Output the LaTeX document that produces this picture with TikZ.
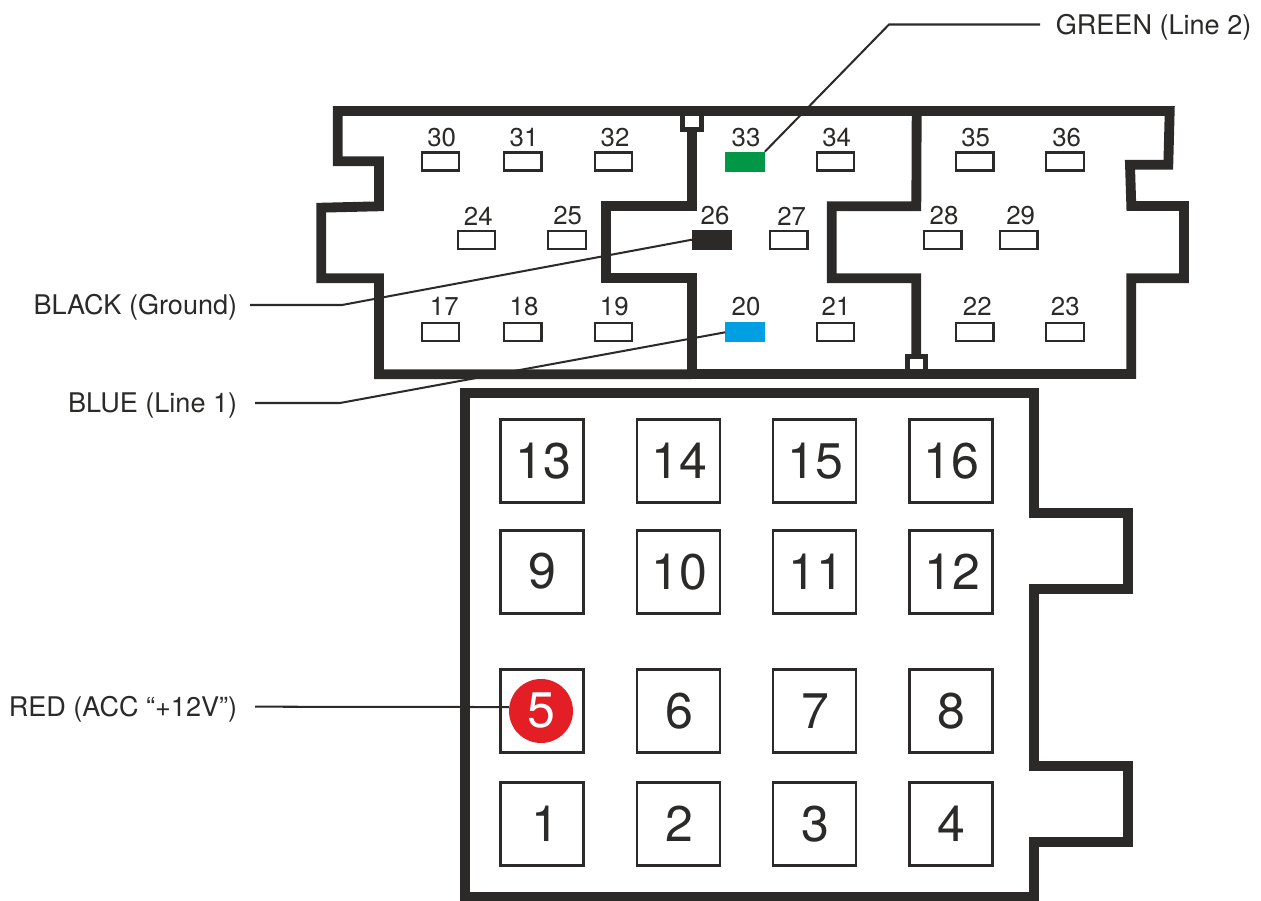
\documentclass[tikz,border=0pt]{standalone}
\usepackage{fontspec}
\setmainfont{TeX Gyre Heros}
\usetikzlibrary{positioning}

\definecolor{shell}{HTML}{2B2A29}
\definecolor{wiregreen}{HTML}{009846}
\definecolor{wireblue}{HTML}{009FE3}
\definecolor{wirered}{HTML}{E31E24}

\tikzset{
    housing/.style={draw=shell, line width=5.6pt, miter limit=10},
    latch/.style={draw=shell, fill=white, line width=2.8pt},
    pin/.style={draw=shell, line width=1.2pt, minimum width=.75cm, minimum height=.36cm, inner sep=0pt},
    pinnum/.style={text=shell, inner sep=0pt, font=\fontsize{14.7}{16}\selectfont},
    bigpin/.style={draw=shell, line width=1.25pt, minimum size=1.66cm, inner sep=0pt},
    bignum/.style={text=shell, inner sep=0pt, font=\fontsize{28.5}{30}\selectfont},
    wirelabel/.style={text=shell, inner ysep=0pt, text height=11.1pt, text depth=0pt, font=\fontsize{15.4}{17}\selectfont},
    wire/.style={draw=shell, line width=1.15pt}
}

\begin{document}
\begin{tikzpicture}[x=.02cm, y=-.02cm]
    \useasboundingbox (0,0) rectangle (1261,901);

    % Inner walls of the upper connector
    \draw[housing] (691.7,125) -- (691.7,206.3) -- (606.3,206.3) -- (606.3,278.3) -- (691.7,278.3) -- (691.7,374.3);
    \draw[housing] (916.7,111) -- (916.3,206.3) -- (831.7,206.3) -- (831.7,278.3) -- (916.3,278.3) -- (916.3,360);

    % Latches
    \draw[latch] (682.5,111) rectangle (701.5,129.7);
    \draw[latch] (907.3,374) rectangle (925.3,356.7);

    % Upper connector
    \draw[housing] (916,111) -- (337.7,111) -- (337.7,161.3) -- (379,161.3) -- (379,206.3) -- (321.3,207.7)
        -- (321.3,278.3) -- (379,278.3) -- (379,374.3) -- (691.7,374.3);
    \draw[housing] (907,111) -- (1169.7,111) -- (1168.3,164.7) -- (1130,164.7) -- (1131.3,206) -- (1184,206)
        -- (1184,278.3) -- (1131.3,278.3) -- (1131.3,374) -- (687,374);

    % Lower connector
    \draw[housing] (465,392.7) -- (1034,392.7) -- (1034,513.2) -- (1128.3,513.2) -- (1128.3,589) -- (1034,589)
        -- (1034,766) -- (1128.3,766) -- (1128.3,841.7) -- (1034,841.7) -- (1034,896.5) -- (465,896.5) -- cycle;

    % Small pins, top row
    \node[pin] (p30) at (440.3,161.5) {};
    \node[pin] (p31) at (522.7,161.5) {};
    \node[pin] (p32) at (613.3,161.5) {};
    \node[pin, draw=wiregreen, fill=wiregreen] (p33) at (745,161.8) {};
    \node[pin] (p34) at (835.3,161.5) {};
    \node[pin] (p35) at (974.7,161.5) {};
    \node[pin] (p36) at (1065,161.5) {};

    % Small pins, middle row
    \node[pin] (p24) at (476.3,239.7) {};
    \node[pin] (p25) at (567,239.7) {};
    \node[pin, fill=shell] (p26) at (711.7,239.7) {};
    \node[pin] (p27) at (788.7,239.7) {};
    \node[pin] (p28) at (942.7,239.7) {};
    \node[pin] (p29) at (1018.7,239.7) {};

    % Small pins, bottom row
    \node[pin] (p17) at (440.3,332.3) {};
    \node[pin] (p18) at (522.7,332.3) {};
    \node[pin] (p19) at (613.3,332.3) {};
    \node[pin, draw=wireblue, fill=wireblue] (p20) at (745,332.3) {};
    \node[pin] (p21) at (835.3,332.3) {};
    \node[pin] (p22) at (974.7,332.3) {};
    \node[pin] (p23) at (1065,332.3) {};

    % Small pin numbers
    \node[pinnum] (n30) at (441.7,137.3) {30};
    \node[pinnum] (n31) at (524,137.3) {31};
    \node[pinnum] (n32) at (615,137.3) {32};
    \node[pinnum] (n33) at (746,137.3) {33};
    \node[pinnum] (n34) at (836.7,137.3) {34};
    \node[pinnum] (n35) at (975.7,137.3) {35};
    \node[pinnum] (n36) at (1066.7,137.3) {36};
    \node[pinnum] (n24) at (478.3,216) {24};
    \node[pinnum] (n25) at (567.7,216) {25};
    \node[pinnum] (n26) at (715,216) {26};
    \node[pinnum] (n27) at (791.7,216) {27};
    \node[pinnum] (n28) at (944,216) {28};
    \node[pinnum] (n29) at (1020.7,216) {29};
    \node[pinnum] (n17) at (444.3,306.7) {17};
    \node[pinnum] (n18) at (524,306.7) {18};
    \node[pinnum] (n19) at (614.3,306.7) {19};
    \node[pinnum] (n20) at (746,306.7) {20};
    \node[pinnum] (n21) at (836,306.7) {21};
    \node[pinnum] (n22) at (977.3,306.7) {22};
    \node[pinnum] (n23) at (1065.3,306.7) {23};

    % Big pins
    \node[bigpin] (b13) at (542,461) {};
    \node[bigpin] (b14) at (678.5,461) {};
    \node[bigpin] (b15) at (814.5,461) {};
    \node[bigpin] (b16) at (951,461) {};
    \node[bigpin] (b9) at (542,572) {};
    \node[bigpin] (b10) at (678.5,572) {};
    \node[bigpin] (b11) at (814.5,572) {};
    \node[bigpin] (b12) at (951,572) {};
    \node[bigpin] (b5) at (542,711) {};
    \node[bigpin] (b6) at (678.5,711) {};
    \node[bigpin] (b7) at (814.5,711) {};
    \node[bigpin] (b8) at (951,711) {};
    \node[bigpin] (b1) at (542,824) {};
    \node[bigpin] (b2) at (678.5,824) {};
    \node[bigpin] (b3) at (814.5,824) {};
    \node[bigpin] (b4) at (951,824) {};

    % Red marker on pin 5
    \node[circle, fill=wirered, minimum size=1.28cm, inner sep=0pt] (hot5) at (541,711) {};

    % Big pin numbers
    \node[bignum] (m13) at (543,461) {13};
    \node[bignum] (m14) at (679,461) {14};
    \node[bignum] (m15) at (815,461) {15};
    \node[bignum] (m16) at (951,461) {16};
    \node[bignum] (m9) at (542,571) {9};
    \node[bignum] (m10) at (679,572) {10};
    \node[bignum] (m11) at (816,572) {11};
    \node[bignum] (m12) at (952,572) {12};
    \node[bignum, text=white] (m5) at (541,710) {5};
    \node[bignum] (m6) at (679,711) {6};
    \node[bignum] (m7) at (815,711) {7};
    \node[bignum] (m8) at (951,711) {8};
    \node[bignum] (m1) at (545,824) {1};
    \node[bignum] (m2) at (679,824) {2};
    \node[bignum] (m3) at (815,824) {3};
    \node[bignum] (m4) at (951,824) {4};

    % Wire labels
    \node[wirelabel, anchor=west, inner xsep=.31cm] (lblgreen) at (1040,24.5) {GREEN (Line 2)};
    \node[wirelabel, anchor=east, inner xsep=.25cm] (lblblack) at (250,305) {BLACK (Ground)};
    \node[wirelabel, anchor=east, inner xsep=.35cm] (lblblue) at (255,403) {BLUE (Line 1)};
    \node[wirelabel, anchor=east, inner xsep=.35cm] (lblred) at (255,706.7) {RED (ACC “+12V”)};

    % Knees of the wires
    \coordinate (kneegreen) at (889,24.5);
    \coordinate (kneeblack) at (342,305);
    \coordinate (kneeblue) at (340,403);

    % Wires
    \draw[wire] (lblgreen.west) -- (kneegreen) -- (p33.north east);
    \draw[wire] (lblblack.east) -- (kneeblack) -- (p26.west);
    \draw[wire] (lblblue.east) -- (kneeblue) -- (p20.west);
    \draw[wire] (lblred.east) -- (hot5.173);
\end{tikzpicture}
\end{document}
